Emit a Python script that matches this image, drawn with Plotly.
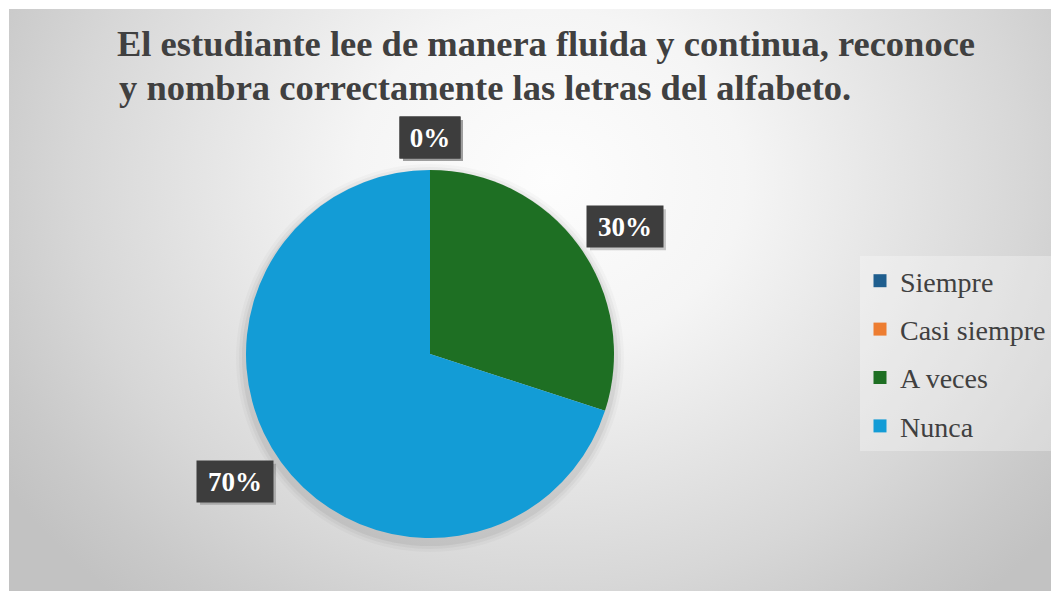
import base64
import math
import plotly.graph_objects as go

# ---------------- data ----------------
categories = ["Siempre", "Casi siempre", "A veces", "Nunca"]
percentages = [0, 0, 30, 70]
slice_colors = ["#1f5e8e", "#ed7d31", "#1e6f23", "#139cd6"]
title_lines = [
    "El estudiante lee de manera fluida y continua, reconoce",
    "y nombra correctamente las letras del alfabeto.",
]

# ---------------- layout constants ----------------
# The page has an 8px body margin, so the figure is 1051x583 and
# positions below are given in window pixels, converted with px()/py().
OFF = 8
FW, FH = 1059 - OFF, 591 - OFF
CX, CY, R = 430, 354, 184          # pie centre / radius (window pixels)
FONT = "Liberation Serif"
TXT = "#404040"


def px(x):
    return (x - OFF) / FW


def py(y):
    return 1 - (y - OFF) / FH


fig = go.Figure()

# background gradient (chart area) as an SVG image
svg = (
    '<svg xmlns="http://www.w3.org/2000/svg" width="1050" height="582" '
    'viewBox="0 0 1050 582" preserveAspectRatio="none"><defs>'
    '<radialGradient id="g" gradientUnits="userSpaceOnUse" cx="0" cy="0" r="1" '
    'gradientTransform="translate(540 170) scale(650 560)">'
    '<stop offset="0" stop-color="#fdfdfd"/>'
    '<stop offset="0.3" stop-color="#f5f5f5"/>'
    '<stop offset="0.73" stop-color="#d7d7d7"/>'
    '<stop offset="0.9" stop-color="#c9c9c9"/>'
    '<stop offset="1" stop-color="#c2c2c2"/>'
    '</radialGradient></defs>'
    '<rect width="1050" height="582" fill="url(#g)"/></svg>'
)
src = "data:image/svg+xml;base64," + base64.b64encode(svg.encode()).decode()
fig.add_layout_image(
    source=src, xref="paper", yref="paper",
    x=px(9), y=py(9), sizex=1050 / FW, sizey=582 / FH,
    xanchor="left", yanchor="top", sizing="stretch", layer="below",
)

# soft shadow under the pie
for k, a in [(10, 0.025), (7, 0.035), (4, 0.05)]:
    rr = R + k
    fig.add_shape(
        type="circle", xref="paper", yref="paper", layer="below",
        x0=px(CX - rr), x1=px(CX + rr),
        y0=py(CY + 4 + rr), y1=py(CY + 4 - rr),
        fillcolor=f"rgba(0,0,0,{a})", line=dict(width=0),
    )

# pie
fig.add_trace(go.Pie(
    labels=categories, values=percentages,
    marker=dict(colors=slice_colors, line=dict(width=0)),
    sort=False, direction="clockwise", rotation=0,
    textinfo="none", hoverinfo="label+percent", showlegend=False,
    domain=dict(x=[px(CX - R), px(CX + R)], y=[py(CY + R), py(CY - R)]),
))

# legend entries (one group each so the spacing can be set)
for cat, col in zip(categories, slice_colors):
    fig.add_trace(go.Scatter(
        x=[None], y=[None], mode="markers", name=cat, legendgroup=cat,
        marker=dict(symbol="square", size=13, color=col),
        showlegend=True, hoverinfo="skip",
    ))

# data labels in dark boxes, placed outside the slice mid-angles
total = sum(percentages)
cum = 0
HH, GAPX, GAPY = 20.5, 19, 12
for v in percentages:
    label = f"{v}%"
    bw = 28 + 16 * len(label)
    hw = bw / 2
    mid = (cum + v / 2) / total * 2 * math.pi
    cum += v
    dx, dy = math.sin(mid), -math.cos(mid)
    lx = CX + dx * (R + GAPX + hw)
    ly = CY + dy * (R + GAPY + HH)
    # shadow of the box
    fig.add_shape(
        type="rect", xref="paper", yref="paper", layer="above",
        x0=px(lx - hw + 3), x1=px(lx + hw + 3),
        y0=py(ly + HH + 3), y1=py(ly - HH + 3),
        fillcolor="rgba(0,0,0,0.2)", line=dict(width=0),
    )
    fig.add_annotation(
        xref="paper", yref="paper", x=px(lx), y=py(ly),
        xanchor="center", yanchor="middle", showarrow=False,
        text=label, width=bw, height=2 * HH, borderpad=0,
        font=dict(family=FONT, size=27, color="white", weight="bold"),
        bgcolor="#3d3d3d",
    )

# second title line
fig.add_annotation(
    xref="paper", yref="paper", x=px(117), y=py(87),
    xanchor="left", yanchor="middle", showarrow=False,
    text=title_lines[1],
    font=dict(family=FONT, size=36.5, color=TXT, weight="bold"),
)

fig.update_layout(
    width=FW, height=FH,
    margin=dict(l=0, r=0, t=0, b=0),
    paper_bgcolor="white", plot_bgcolor="rgba(0,0,0,0)",
    xaxis=dict(visible=False), yaxis=dict(visible=False),
    title=dict(
        text=title_lines[0],
        x=px(117), xanchor="left", xref="paper",
        y=py(43), yanchor="middle", yref="paper",
        font=dict(family=FONT, size=36.5, color=TXT, weight="bold"),
    ),
    legend=dict(
        x=px(860), xanchor="left", y=py(256), yanchor="top",
        orientation="v", tracegroupgap=9,
        font=dict(family=FONT, size=28, color=TXT),
        bgcolor="rgba(255,255,255,0.3)", borderwidth=0,
    ),
)

fig.write_html("out.html")
